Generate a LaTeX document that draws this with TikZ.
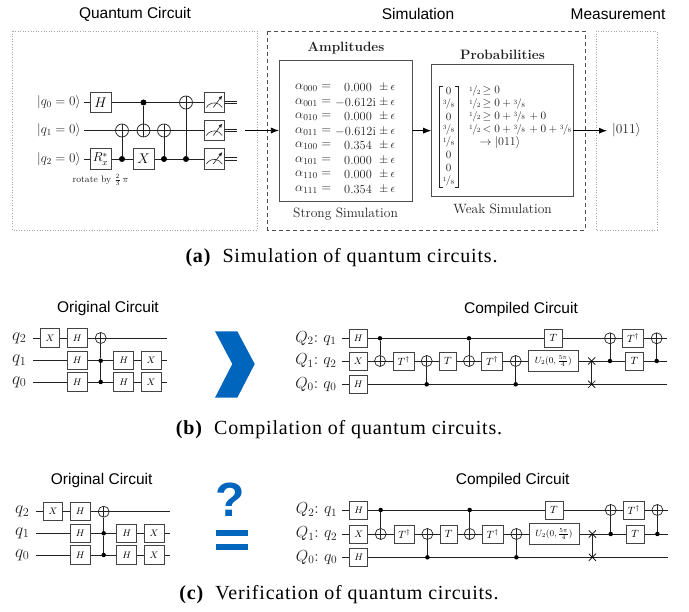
\RequirePackage{fix-cm}
\documentclass[tikz,border=0pt]{standalone}
\usepackage{fontspec}
\usetikzlibrary{arrows.meta,shapes.misc}
\newfontfamily\sansf{Liberation Sans}
\newfontfamily\capf[LetterSpace=4]{Liberation Serif}
\definecolor{tumblue}{HTML}{0065BD}
\definecolor{ink}{HTML}{222222}
\newcommand{\fz}[1]{\fontsize{#1}{#1}\selectfont}
\newcommand{\nf}[2]{\raisebox{2.4pt}{\fz{6.5}#1}\kern-0.6pt{\fz{10.5}/}\kern-0.6pt\raisebox{-0.8pt}{\fz{6.5}#2}}
\tikzset{
  wire/.style={draw=ink,line width=0.7pt},
  arrowline/.style={draw=black,line width=0.8pt,-{Latex[length=8pt,width=6pt]}},
  gbox/.style 2 args={draw=ink!85,line width=0.9pt,fill=white,rectangle,inner sep=0pt,minimum width=#1pt,minimum height=#2pt},
  ctrl/.style={circle,fill=black,inner sep=0pt,minimum size=#1pt},
  ctrl/.default=4.5,
  targ/.style={circle,draw=ink,line width=0.7pt,inner sep=0pt,minimum size=#1pt,path picture={
    \draw[ink,line width=0.7pt] (path picture bounding box.north)--(path picture bounding box.south)
      (path picture bounding box.west)--(path picture bounding box.east);}},
  targ/.default=11,
  swapx/.style={cross out,draw=black,line width=0.7pt,inner sep=0pt,minimum size=6.5pt},
  title/.style={font=\sansf\fz{15.5},text=black},
  capt/.style={font=\capf\fz{20},text=black},
  frameD/.style={draw=gray!70,dotted,line width=0.6pt},
  frameB/.style={draw=ink!80,dashed,line width=0.8pt,dash pattern=on 4pt off 3pt},
  panel/.style 2 args={draw=ink!80,line width=0.9pt,rectangle,inner sep=0pt,minimum width=#1pt,minimum height=#2pt},
  small/.style={font=\fz{13.5},text=ink},
  row/.style={font=\fz{11},text=ink,inner sep=0pt},
}
% compiled circuit, shared by (b) and (c): #1 prefix, #2 #3 #4 wire y's, #5 x shift
\newcommand{\compiled}[5]{%
  \begin{scope}[xshift=#5pt]
  \coordinate (#1ts) at (341.7,#2); \coordinate (#1te) at (667,#2);
  \coordinate (#1ms) at (341.7,#3); \coordinate (#1me) at (667,#3);
  \coordinate (#1bs) at (341.7,#4); \coordinate (#1be) at (667,#4);
  \draw[wire] (#1ts)--(#1te); \draw[wire] (#1ms)--(#1me); \draw[wire] (#1bs)--(#1be);
  \node[gbox={18}{18},font=\fz{9.5}] (#1g1) at (358.2,#2) {$H$};
  \node[gbox={18}{18},font=\fz{9.5}] (#1g2) at (358.2,#3) {$X$};
  \node[gbox={18}{18},font=\fz{9.5}] (#1g3) at (358.2,#4) {$H$};
  \node[gbox={20.5}{18},font=\fz{10.5}] (#1g4) at (403.7,#3) {$T^\dagger$};
  \node[gbox={17.5}{18},font=\fz{10.5}] (#1g5) at (448,#3) {$T$};
  \node[gbox={20.5}{18},font=\fz{10.5}] (#1g6) at (492,#3) {$T^\dagger$};
  \node[gbox={50}{20.5},font=\fz{9}] (#1g7) at (553.3,#3) {$U_2(0,\frac{5\pi}{4})$};
  \node[gbox={18}{18},font=\fz{10.5}] (#1g8) at (553.3,#2) {$T$};
  \node[gbox={21.5}{18},font=\fz{10.5}] (#1g9) at (633,#2) {$T^\dagger$};
  \node[gbox={17.5}{18},font=\fz{10.5}] (#1g10) at (634.5,#3) {$T$};
  \node[ctrl] (#1c1) at (380,#2) {}; \node[targ] (#1x1) at (380,#3) {};
  \node[ctrl] (#1c2) at (426.7,#4) {}; \node[targ] (#1x2) at (426.7,#3) {};
  \node[ctrl] (#1c3) at (469,#2) {}; \node[targ] (#1x3) at (469,#3) {};
  \node[ctrl] (#1c4) at (515.7,#4) {}; \node[targ] (#1x4) at (515.7,#3) {};
  \node[ctrl] (#1c5) at (610,#3) {}; \node[targ] (#1x5) at (610,#2) {};
  \node[ctrl] (#1c6) at (656.7,#3) {}; \node[targ] (#1x6) at (656.7,#2) {};
  \node[swapx] (#1s1) at (591.7,#3) {}; \node[swapx] (#1s2) at (591.7,#4) {};
  \foreach \k in {1,...,6} {\draw[wire] (#1c\k)--(#1x\k);}
  \draw[wire] (#1s1.center)--(#1s2.center);
  \node[anchor=east,font=\fz{16},text=ink,inner sep=0pt] (#1l1) at (336.7,#2) {$Q_2\colon\,q_1$};
  \node[anchor=east,font=\fz{16},text=ink,inner sep=0pt] (#1l2) at (336.7,#3) {$Q_1\colon\,q_2$};
  \node[anchor=east,font=\fz{16},text=ink,inner sep=0pt] (#1l3) at (336.7,#4) {$Q_0\colon\,q_0$};
  \end{scope}}
% original circuit: #1 prefix, #2 #3 #4 wire y's, #5 x shift
\newcommand{\original}[5]{%
  \begin{scope}[xshift=#5pt]
  \coordinate (#1ts) at (33,#2); \coordinate (#1te) at (167,#2);
  \coordinate (#1ms) at (33,#3); \coordinate (#1me) at (167,#3);
  \coordinate (#1bs) at (33,#4); \coordinate (#1be) at (167,#4);
  \draw[wire] (#1ts)--(#1te); \draw[wire] (#1ms)--(#1me); \draw[wire] (#1bs)--(#1be);
  \node[gbox={19.5}{18.5},font=\fz{9.5}] (#1g1) at (50,#2) {$X$};
  \node[gbox={20}{18.5},font=\fz{9.5}] (#1g2) at (77.3,#2) {$H$};
  \node[gbox={20}{18.5},font=\fz{9.5}] (#1g3) at (77.3,#3) {$H$};
  \node[gbox={20}{18.5},font=\fz{9.5}] (#1g4) at (77.3,#4) {$H$};
  \node[gbox={20}{18.5},font=\fz{9.5}] (#1g5) at (123.7,#3) {$H$};
  \node[gbox={20}{18.5},font=\fz{9.5}] (#1g6) at (123.7,#4) {$H$};
  \node[gbox={20}{18.5},font=\fz{9.5}] (#1g7) at (151,#3) {$X$};
  \node[gbox={20}{18.5},font=\fz{9.5}] (#1g8) at (151,#4) {$X$};
  \node[ctrl] (#1c1) at (100.7,#3) {}; \node[ctrl] (#1c2) at (100.7,#4) {};
  \node[targ] (#1x) at (100.7,#2) {};
  \draw[wire] (#1c2)--(#1c1); \draw[wire] (#1c1)--(#1x);
  \node[anchor=east,font=\fz{17.5},text=ink,inner sep=0pt] (#1l1) at (26.5,#2) {$q_2$};
  \node[anchor=east,font=\fz{17.5},text=ink,inner sep=0pt] (#1l2) at (26.5,#3) {$q_1$};
  \node[anchor=east,font=\fz{17.5},text=ink,inner sep=0pt] (#1l3) at (26.5,#4) {$q_0$};
  \end{scope}}
\newcommand{\meter}[2]{%
  \node[gbox={20.5}{20.5}] (#1) at (#2) {};
  \draw[ink,line width=0.6pt] ([shift={(-8,5)}]#1.center) arc[start angle=150,end angle=30,radius=9.2pt];
  \draw[ink,line width=0.6pt,-{Latex[length=4pt,width=3.5pt]}] ([shift={(-1,5)}]#1.center) -- ([shift={(8,-7)}]#1.center);
  \draw[ink,line width=0.6pt] ([yshift=1.3pt]#1.east) -- ++(12,0) ([yshift=-1.3pt]#1.east) -- ++(12,0);}
\begin{document}
\begin{tikzpicture}[x=1pt,y=-1pt]
\useasboundingbox (0,0) rectangle (689,612);
% titles
\node[title] (tq) at (135,14) {Quantum Circuit};
\node[title] (ts) at (418,14) {Simulation};
\node[title] (tm) at (618,14) {Measurement};
% frames
\draw[frameD] (12.5,31) rectangle (257,230);
\draw[frameB] (267.5,31.5) rectangle (585,230);
\draw[frameD] (596,31) rectangle (657,230);
% top circuit
\coordinate (w0) at (84,102.5); \coordinate (w1) at (84,130.5); \coordinate (w2) at (84,159);
\coordinate (we0) at (204,102.5); \coordinate (we1) at (204,130.5); \coordinate (we2) at (204,159);
\draw[wire] (w0)--(we0); \draw[wire] (w1)--(we1); \draw[wire] (w2)--(we2);
\node[gbox={21}{20.5},font=\fz{14}] (gh) at (100.5,102.5) {$H$};
\node[gbox={21}{20.5},font=\fz{13}] (gr) at (100.5,159) {$R_x^*$};
\node[gbox={21}{20.5},font=\fz{14}] (gx) at (143.5,159) {$X$};
\node[ctrl=6] (c1) at (122,159) {}; \node[targ=13] (x1) at (122,130.5) {};
\node[ctrl=6] (c2) at (143.5,102.5) {}; \node[targ=13] (x2) at (143.5,130.5) {};
\node[ctrl=6] (c3) at (164,159) {}; \node[targ=13] (x3) at (164,130.5) {};
\node[ctrl=6] (c4) at (186,159) {}; \node[targ=13] (x4) at (186,102.5) {};
\foreach \k in {1,...,4} {\draw[wire] (c\k)--(x\k);}
\meter{m0}{214.3,102.5}
\meter{m1}{214.3,130.5}
\meter{m2}{214.3,159}
\node[anchor=east,font=\fz{13.2},text=ink,inner sep=0pt] (l0) at (81,102.5) {$|q_0=0\rangle$};
\node[anchor=east,font=\fz{13.2},text=ink,inner sep=0pt] (l1) at (81,130.5) {$|q_1=0\rangle$};
\node[anchor=east,font=\fz{13.2},text=ink,inner sep=0pt] (l2) at (81,159) {$|q_2=0\rangle$};
\node[font=\fz{9.4},text=ink,inner sep=0pt] (rot) at (100.5,180) {rotate by $\frac{2}{3}\,\pi$};
% simulation panels
\node[panel={132.7}{141}] (amp) at (345.7,130.5) {};
\node[panel={141.3}{132.5}] (prob) at (502.3,130.7) {};
\node[font=\bfseries\fz{13.5},text=ink,inner sep=0pt] (ampt) at (346,48) {Amplitudes};
\node[font=\bfseries\fz{13.6},text=ink,inner sep=0pt] (probt) at (502.5,55) {Probabilities};
\node[small,inner sep=0pt] (sst) at (345.5,214) {Strong Simulation};
\node[small,inner sep=0pt] (wst) at (502.5,209) {Weak Simulation};
\foreach \i/\idx/\val/\xx/\yy in {a/000/0.000/344/88,b/001/-0.612\mathrm{i}/335/102.5,c/010/0.000/344/117,d/011/-0.612\mathrm{i}/335/131.5,e/100/0.354/344/146,f/101/0.000/344/160.5,g/110/0.000/344/175,h/111/0.354/344/189.5} {
  \node[anchor=west,font=\fz{13},text=ink,inner sep=0pt] (al\i) at (295,\yy) {$\alpha_{\idx}=$};
  \node[anchor=west,font=\fz{12.4},text=ink,inner sep=0pt] (va\i) at (\xx,\yy) {$\val$};
  \node[anchor=west,font=\fz{12},text=ink,inner sep=0pt] (ep\i) at (379,\yy) {$\pm\,\epsilon$};
}
\foreach \i/\tx/\yy in {a/$0$/91,b/\nf{3}{8}/104,c/$0$/116.5,d/\nf{3}{8}/129.5,e/\nf{1}{8}/142,f/$0$/155,g/$0$/168,h/\nf{1}{8}/181} {
  \node[row] (ve\i) at (448.5,\yy) {\tx};
}
\draw[ink,line width=0.7pt] (442.5,86)--(439.5,86)--(439.5,187)--(442.5,187);
\draw[ink,line width=0.7pt] (455,86)--(458,86)--(458,187)--(455,187);
\node[row,font=\fz{11.2},anchor=west] (ra) at (469,91) {\nf{1}{2}$\,\geq 0$};
\node[row,font=\fz{11.2},anchor=west] (rb) at (469,104) {\nf{1}{2}$\,\geq 0+{}$\nf{3}{8}};
\node[row,font=\fz{11.2},anchor=west] (rc) at (469,116.5) {\nf{1}{2}$\,\geq 0+{}$\nf{3}{8}$\,{}+0$};
\node[row,font=\fz{11.2},anchor=west] (rd) at (469,129.5) {\nf{1}{2}$\,<0+{}$\nf{3}{8}$\,{}+0+{}$\nf{3}{8}};
\node[row,font=\fz{12}] (re) at (500,143) {$\rightarrow|011\rangle$};
\node[font=\fz{13.5},text=ink,inner sep=0pt] (res) at (626.5,130.5) {$|011\rangle$};
% arrows
\coordinate (ain) at (245,130.5);
\coordinate (aout) at (607,130.7);
\draw[arrowline] (ain)--(amp.west);
\draw[arrowline] (amp.east)--(prob.west);
\draw[arrowline] (prob.east)--(aout);
% captions
\node[capt] (ca) at (341.5,258) {\textbf{(a)}\; Simulation of quantum circuits.};
\node[capt] (cb) at (339,430) {\textbf{(b)}\; Compilation of quantum circuits.};
\node[capt] (cc) at (339,595) {\textbf{(c)}\; Verification of quantum circuits.};
% (b)
\node[title] (ob) at (108,308.5) {Original Circuit};
\node[title] (cob) at (521,309) {Compiled Circuit};
\original{b}{338}{360.7}{382}{0}
\compiled{p}{338.3}{361}{384.3}{0}
\fill[tumblue] (215,331.3)--(237.3,331.3)--(254.7,364)--(237.3,397.7)--(215,397.7)--(232.3,364)--cycle;
% (c)
\node[title] (oc) at (101.7,480) {Original Circuit};
\node[title] (coc) at (512.7,480) {Compiled Circuit};
\original{k}{511.7}{533.3}{555}{3}
\compiled{r}{510}{534}{557.3}{0.7}
\node[font=\sansf\bfseries\fz{48},text=tumblue,inner sep=0pt] (qm) at (230,500) {?};
\fill[tumblue] (216,530) rectangle (248.3,535.7);
\fill[tumblue] (216,544.3) rectangle (248.3,550.3);
\end{tikzpicture}
\end{document}
